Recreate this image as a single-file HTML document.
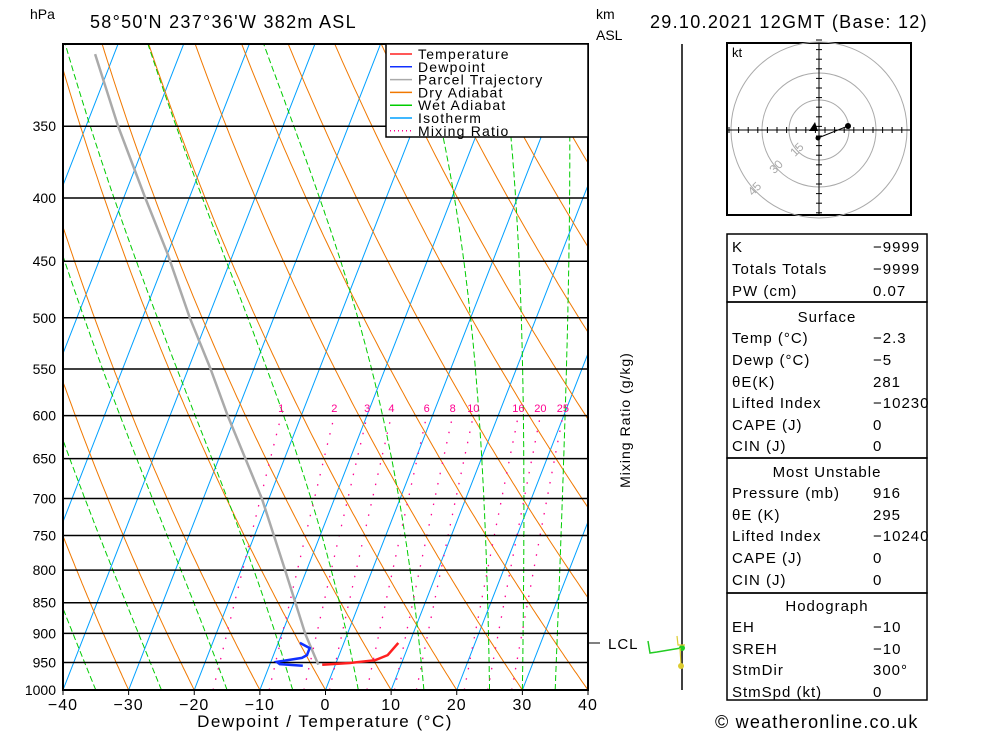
<!DOCTYPE html>
<html><head><meta charset="utf-8"><style>
body{margin:0;background:#fff;}
svg{display:block;font-family:"Liberation Sans",sans-serif;}
</style></head><body>
<svg id="c" width="1000" height="733" viewBox="0 0 1000 733" xmlns="http://www.w3.org/2000/svg">
<defs><clipPath id="clip"><rect x="63" y="44" width="525" height="646"/></clipPath></defs>
<g id="grid" clip-path="url(#clip)"></g>
<g id="series" clip-path="url(#clip)"></g>
<g id="axes"></g>
<g id="legend"></g>
<g id="side"></g>
</svg>
<script>
const pressureTicks=[350,400,450,500,550,600,650,700,750,800,850,900,950,1000];
const tempTicks=[-40,-30,-20,-10,0,10,20,30,40];
const mixRatios=[1,2,3,4,6,8,10,16,20,25];
const dryThetaC=[-60,-50,-40,-30,-20,-10,0,10,20,30,40,50,60,70,80,90,100,110,120,130,140,150,160,170,180];
const moistStartC=[-65,-55,-45,-35,-25,-15,-5,5,15,25,30,35,40,45];
const isoTemps=[-120,-110,-100,-90,-80,-70,-60,-50,-40,-30,-20,-10,0,10,20,30,40];
const tempP=[954,951,946,937,916];
const tempT=[-2.0,2.1,5.8,7.4,8.3];
const dewP=[956,953,949,942,937,925,916];
const dewT=[-4.9,-8.5,-9.1,-5.5,-4.9,-4.9,-6.7];
const parcelP=[954,901,801,701,600,549,500,443,400,350,306];
const parcelT=[-2.6,-6.4,-13.2,-21.0,-31.2,-36.7,-42.8,-50.1,-56.7,-65.1,-72.9];

const NS="http://www.w3.org/2000/svg";
const X0=63,X1=588,YB=690,YT=44,K=537,PXC=6.5625,SK=0.39;
function yP(p){return YB-K*Math.log(1000/p);}
function xT(t,p){return X0+(t+40)*PXC+(YB-yP(p))*SK;}
function el(tag,attrs,parent,text){const e=document.createElementNS(NS,tag);for(const k in attrs)e.setAttribute(k,attrs[k]);if(text!==undefined)e.textContent=text;parent.appendChild(e);return e;}
function poly(pts){return pts.map(q=>q[0].toFixed(1)+","+q[1].toFixed(1)).join(" ");}
const grid=document.getElementById('grid'),ser=document.getElementById('series'),axes=document.getElementById('axes'),leg=document.getElementById('legend'),side=document.getElementById('side');
const plevels=[];for(let p=1000;p>=295;p-=5)plevels.push(p);

isoTemps.forEach(t=>{const l=el('line',{x1:xT(t,1000),y1:yP(1000),x2:xT(t,295),y2:yP(295),stroke:'#00a0ff','stroke-width':1},grid);
});
dryThetaC.forEach(th=>{const pts=plevels.map(p=>[xT((th+273.15)*Math.pow(p/1000,0.286)-273.15,p),yP(p)]);
const l=el('polyline',{points:poly(pts),fill:'none',stroke:'#f07800','stroke-width':1},grid);
});
function es(T){return 6.112*Math.exp(17.67*T/(T+243.5));}
moistStartC.forEach(t0=>{let T=t0+273.15,p=1000;const pts=[[xT(t0,p),yP(p)]];
while(p>295){const tc=T-273.15;const rs=0.622*es(tc)/(p-es(tc));
const g=(287*T+2.5e6*rs)/(1004+2.5e6*2.5e6*rs*0.622/(287*T*T))/p;
T-= g*2;p-=2;pts.push([xT(T-273.15,p),yP(p)]);}
const l=el('polyline',{points:poly(pts),fill:'none',stroke:'#00cc00','stroke-width':1,'stroke-dasharray':'6,3'},grid);
});
function tdW(w,p){const e=w*p/(622+w);const a=Math.log(e/6.112);return 243.5*a/(17.67-a);}
mixRatios.forEach(w=>{const pts=[];for(let p=1000;p>=600;p-=10)pts.push([xT(tdW(w,p),p),yP(p)]);
const l=el('polyline',{points:poly(pts),fill:'none',stroke:'#ff0090','stroke-width':1.3,'stroke-dasharray':'1.5,9'},grid);

const t=el('text',{x:xT(tdW(w,600),600),y:412,'font-size':11,fill:'#ff0090','text-anchor':'middle'},axes,String(w));
});
pressureTicks.forEach(p=>{const l=el('line',{x1:X0,x2:X1,y1:yP(p),y2:yP(p),stroke:'#000','stroke-width':1.5},grid);

const t=el('text',{x:56,y:yP(p)+5,'font-size':14,'text-anchor':'end'},axes,String(p));
});
function prof(P,T,color,w,name){const l=el('polyline',{points:poly(P.map((p,i)=>[xT(T[i],p),yP(p)])),fill:'none',stroke:color,'stroke-width':w},ser);
}
prof(parcelP,parcelT,'#aaaaaa',2.5,'parcel-trajectory');
prof(tempP,tempT,'#ff2020',2.5,'temperature-line');
prof(dewP,dewT,'#1030ff',2.5,'dewpoint-line');
const fr=el('rect',{x:X0,y:YT,width:X1-X0,height:YB-YT,fill:'none',stroke:'#000','stroke-width':2},axes);

tempTicks.forEach(t=>{const x=X0+(t+40)*PXC;el('line',{x1:x,x2:x,y1:YB,y2:YB+5,stroke:'#000'},axes);
const tx=el('text',{x:x,y:710,'font-size':16,'text-anchor':'middle','letter-spacing':'1'},axes,(t<0?'\u2212':'')+Math.abs(t));
});
</script>
<script>
(function(){
const NS="http://www.w3.org/2000/svg";
function el(tag,attrs,parent,text){const e=document.createElementNS(NS,tag);for(const k in attrs)e.setAttribute(k,attrs[k]);if(text!==undefined)e.textContent=text;parent.appendChild(e);return e;}
const axes=document.getElementById('axes'),leg=document.getElementById('legend'),side=document.getElementById('side');
function txt(x,y,s,size,name,extra){const a=Object.assign({x:x,y:y,'font-size':size},extra||{});const t=el('text',a,axes,s);
return t;}
txt(30,19,'hPa',14,'y-axis-unit');
txt(90,28,"58°50'N  237°36'W  382m  ASL",18,'location-title',{'letter-spacing':'1.3'});
txt(596,19,'km',14,'km-unit');txt(596,40,'ASL',14,'asl-unit');
txt(650,28,'29.10.2021  12GMT  (Base: 12)',18,'date-title',{'letter-spacing':'1.3'});
txt(325,727,'Dewpoint / Temperature (°C)',17,'x-axis-title',{'text-anchor':'middle','letter-spacing':'1.5'});
txt(715,728,'© weatheronline.co.uk',18,'copyright',{'letter-spacing':'1.2'});
txt(630,420,'Mixing Ratio (g/kg)',14,'mixing-ratio-title',{'text-anchor':'middle','transform':'rotate(-90 630 420)','letter-spacing':'1'});
el('line',{x1:682,x2:682,y1:44,y2:690,stroke:'#000','stroke-width':1.5},axes);
el('line',{x1:588,x2:600,y1:643,y2:643,stroke:'#000'},axes);
txt(608,649,'LCL',15,'lcl-label',{'letter-spacing':'1'});
el('polyline',{points:'648,641 650,653 657,652 681,648',fill:'none',stroke:'#22cc22','stroke-width':1.5},axes);
el('circle',{cx:682,cy:648,r:3,fill:'#22cc22'},axes);
el('polyline',{points:'677,636 678,645 685,645',fill:'none',stroke:'#ddcc30','stroke-width':1.2},axes);
el('line',{x1:680,x2:681,y1:648,y2:665,stroke:'#ddcc30','stroke-width':1.2},axes);
el('circle',{cx:681,cy:666,r:3,fill:'#ddcc30'},axes);
el('rect',{x:386,y:44,width:202,height:93,fill:'#fff',stroke:'#000','stroke-width':1.5},leg);
const items=[['Temperature','#ff2020',''],['Dewpoint','#1030ff',''],['Parcel Trajectory','#aaaaaa',''],['Dry Adiabat','#f07800',''],['Wet Adiabat','#00cc00',''],['Isotherm','#00a0ff',''],['Mixing Ratio','#ff0090','1,3']];
items.forEach((it,i)=>{const y=54+i*12.8;
const l=el('line',{x1:390,x2:412,y1:y,y2:y,stroke:it[1],'stroke-width':1.5,'stroke-dasharray':it[2]||'none'},leg);

const t=el('text',{x:418,y:y+5,'font-size':14,'letter-spacing':'1.2'},leg,it[0]);
});
const h=el('g',{},side);
el('rect',{x:727,y:43,width:184,height:172,fill:'#fff',stroke:'#000','stroke-width':2},h);
const cx=819,cy=130;
[30,57,88].forEach(r=>el('circle',{cx:cx,cy:cy,r:r,fill:'none',stroke:'#aaa'},h));
el('line',{x1:727,x2:911,y1:cy,y2:cy,stroke:'#000'},h);el('line',{x1:cx,x2:cx,y1:43,y2:215,stroke:'#000'},h);
for(let d=-90;d<=90;d+=9.6){if(Math.abs(d)<1)continue;el('line',{x1:cx+d,x2:cx+d,y1:cy-3,y2:cy+3,stroke:'#000'},h);el('line',{x1:cx-3,x2:cx+3,y1:cy+d,y2:cy+d,stroke:'#000'},h);}
el('text',{x:732,y:57,'font-size':13},h,'kt');
el('text',{x:790,y:155,'font-size':12,fill:'#aaa',transform:'rotate(-45 795 150)'},h,'15');
el('text',{x:770,y:172,'font-size':12,fill:'#aaa',transform:'rotate(-45 775 168)'},h,'30');
el('text',{x:748,y:195,'font-size':12,fill:'#aaa',transform:'rotate(-45 752 190)'},h,'45');
el('polygon',{points:'809,131 815,122 818,131',fill:'#000'},h);
el('line',{x1:818,y1:138,x2:848,y2:126,stroke:'#000'},h);
el('circle',{cx:848,cy:126,r:3,fill:'#000'},h);el('circle',{cx:818,cy:138,r:2.5,fill:'#000'},h);
const tb=el('g',{'font-size':15,'letter-spacing':'1'},side);
[[234,302],[302,458],[458,593],[593,700]].forEach(b=>el('rect',{x:727,y:b[0],width:200,height:b[1]-b[0],fill:'none',stroke:'#000','stroke-width':1.5},tb));
const rows=[[252,'K','−9999'],[274,'Totals Totals','−9999'],[296,'PW (cm)','0.07'],[322,'  Surface',''],[343,'Temp (°C)','−2.3'],[365,'Dewp (°C)','−5'],[387,'θE(K)','281'],[408,'Lifted Index','−10230'],[430,'CAPE (J)','0'],[451,'CIN (J)','0'],
[477,'  Most Unstable',''],[498,'Pressure (mb)','916'],[520,'θE (K)','295'],[541,'Lifted Index','−10240'],[563,'CAPE (J)','0'],[585,'CIN (J)','0'],
[611,'  Hodograph',''],[632,'EH','−10'],[654,'SREH','−10'],[675,'StmDir','300°'],[697,'StmSpd (kt)','0']];
rows.forEach(r=>{const isHead=r[1].startsWith('  ');
const t=el('text',{x:isHead?827:732,y:r[0],'text-anchor':isHead?'middle':'start'},tb,r[1].trim());

if(r[2]){const v=el('text',{x:873,y:r[0]},tb,r[2]);}});
})();
</script>
</body></html>
